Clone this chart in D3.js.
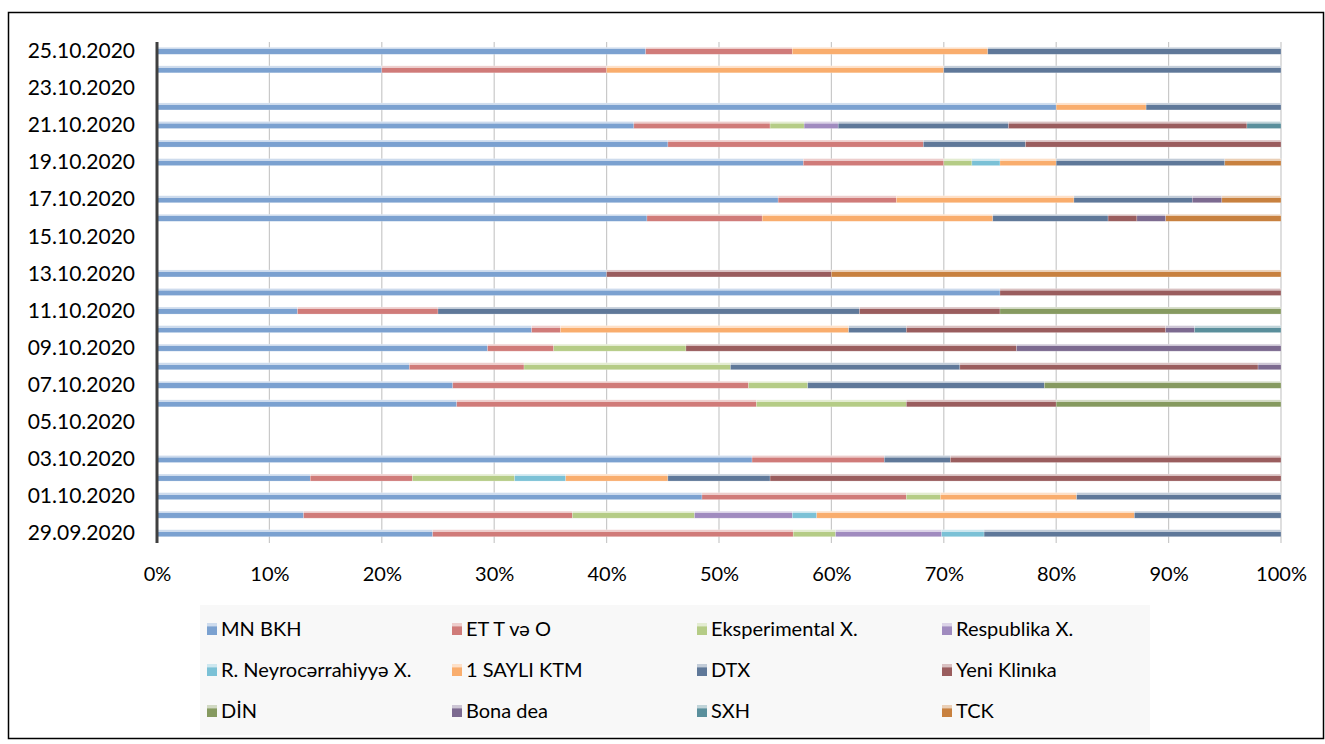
<!DOCTYPE html>
<html>
<head>
<meta charset="utf-8">
<script src="https://cdn.jsdelivr.net/npm/d3@7"></script>
<style>
  html, body { margin: 0; padding: 0; background: #fff; }
  svg { display: block; font-family: Lato, "Open Sans", sans-serif; }
</style>
</head>
<body>
<svg id="chart" width="1325" height="744"></svg>
<script>
// Daily dates, bottom row first
const dates = [
  "29.09.2020","30.09.2020","01.10.2020","02.10.2020","03.10.2020","04.10.2020","05.10.2020",
  "06.10.2020","07.10.2020","08.10.2020","09.10.2020","10.10.2020","11.10.2020","12.10.2020",
  "13.10.2020","14.10.2020","15.10.2020","16.10.2020","17.10.2020","18.10.2020","19.10.2020",
  "20.10.2020","21.10.2020","22.10.2020","23.10.2020","24.10.2020","25.10.2020"
];

const seriesNames = [
  "MN BKH","ET T və O","Eksperimental X.","Respublika X.",
  "R. Neyrocərrahiyyə X.","1 SAYLI KTM","DTX","Yeni Klinıka",
  "DİN","Bona dea","SXH","TCK"
];

const seriesColors = [
  "#7ba1d0","#d07b79","#b5cc86","#a08bbf",
  "#7bc1d6","#f9ad6d","#5f7899","#9a5d5e",
  "#869a60","#7c6a90","#5a8f9c","#c8813f"
];

// Counts per institution, one value per date
const mnBkh       = [13,6,16,3,9,0,0,4,5,11,5,13,1,3,2,0,0,17,21,0,23,10,14,20,0,2,10];
const etTvO       = [17,11,6,2,2,0,0,4,5,5,1,1,1,0,0,0,0,4,4,0,5,5,4,0,0,2,3];
const eksperiment = [2,5,1,2,0,0,0,2,1,9,2,0,0,0,0,0,0,0,0,0,1,0,1,0,0,0,0];
const respublika  = [5,4,0,0,0,0,0,0,0,0,0,0,0,0,0,0,0,0,0,0,0,0,1,0,0,0,0];
const neyro       = [2,1,0,1,0,0,0,0,0,0,0,0,0,0,0,0,0,0,0,0,1,0,0,0,0,0,0];
const saylıKtm    = [0,13,4,2,0,0,0,0,0,0,0,10,0,0,0,0,0,8,6,0,2,0,0,2,0,3,4];
const dtx         = [14,6,6,2,1,0,0,0,4,10,0,2,3,0,0,0,0,4,4,0,6,2,5,3,0,3,6];
const yeniKlinika = [0,0,0,10,5,0,0,2,0,13,5,9,1,1,1,0,0,1,0,0,0,5,7,0,0,0,0];
const din         = [0,0,0,0,0,0,0,3,4,0,0,0,2,0,0,0,0,0,0,0,0,0,0,0,0,0,0];
const bonaDea     = [0,0,0,0,0,0,0,0,0,1,4,1,0,0,0,0,0,1,1,0,0,0,0,0,0,0,0];
const sxh         = [0,0,0,0,0,0,0,0,0,0,0,3,0,0,0,0,0,0,0,0,0,0,1,0,0,0,0];
const tck         = [0,0,0,0,0,0,0,0,0,0,0,0,0,0,2,0,0,4,2,0,2,0,0,0,0,0,0];

const seriesValues = [mnBkh, etTvO, eksperiment, respublika, neyro, saylıKtm,
                      dtx, yeniKlinika, din, bonaDea, sxh, tck];

const xTicks = [0,0.1,0.2,0.3,0.4,0.5,0.6,0.7,0.8,0.9,1];

// Build table rows for the stack layout
const table = dates.map((d, i) => {
  const row = { date: d };
  seriesNames.forEach((s, k) => { row[s] = seriesValues[k][i]; });
  return row;
});

const svg = d3.select("#chart");

// Outer frame
svg.append("rect")
  .attr("x", 8.5).attr("y", 12.5)
  .attr("width", 1315).attr("height", 726)
  .attr("fill", "#fff").attr("stroke", "#000").attr("stroke-width", 1.5);

const plot = { left: 157, right: 1281, top: 42, bottom: 543 };

const x = d3.scaleLinear().domain([0, 1]).range([plot.left, plot.right]);
const y = d3.scaleBand().domain(dates.slice().reverse())
  .range([plot.top, plot.bottom]).padding(0);

// Vertical gridlines
svg.append("g").selectAll("line")
  .data(xTicks.slice(1))
  .join("line")
  .attr("x1", d => x(d)).attr("x2", d => x(d))
  .attr("y1", plot.top).attr("y2", plot.bottom)
  .attr("stroke", "#c9c9c9").attr("stroke-width", 1.2);

// Percent stack
const stack = d3.stack().keys(seriesNames).offset(d3.stackOffsetExpand);
const layers = stack(table);

const defs = svg.append("defs");
seriesColors.forEach((c, k) => {
  const g = defs.append("linearGradient")
    .attr("id", "grad" + k).attr("x1", 0).attr("x2", 0).attr("y1", 0).attr("y2", 1);
  const light = d3.interpolateRgb(c, "#ffffff")(0.62);
  g.append("stop").attr("offset", "0%").attr("stop-color", light);
  g.append("stop").attr("offset", "28%").attr("stop-color", light);
  g.append("stop").attr("offset", "30%").attr("stop-color", c);
  g.append("stop").attr("offset", "100%").attr("stop-color", c);
});

const barH = 7;
svg.append("g").selectAll("g")
  .data(layers)
  .join("g")
  .attr("fill", (d, k) => `url(#grad${k})`)
  .selectAll("rect")
  .data(d => d.filter(p => !isNaN(p[1]) && p[1] - p[0] > 0))
  .join("rect")
  .attr("x", p => x(p[0]))
  .attr("width", p => x(p[1]) - x(p[0]))
  .attr("y", p => y(p.data.date) + y.bandwidth() / 2 - 4)
  .attr("height", barH)
  .attr("stroke", "rgba(255,255,255,0.35)")
  .attr("stroke-width", 0.6);

// Y axis (every second date labelled)
const yAxis = d3.axisLeft(y)
  .tickValues(dates.filter((d, i) => i % 2 === 0))
  .tickSize(0).tickPadding(22);
const gy = svg.append("g").attr("transform", `translate(${plot.left},0)`).call(yAxis);
gy.select(".domain").remove();
gy.selectAll("text").attr("font-size", 21).attr("fill", "#000")
  .attr("font-family", "Lato, 'Open Sans', sans-serif");

svg.append("line")
  .attr("x1", plot.left).attr("x2", plot.left)
  .attr("y1", plot.top).attr("y2", plot.bottom)
  .attr("stroke", "#404040").attr("stroke-width", 3);

// X axis
const xAxis = d3.axisBottom(x).tickValues(xTicks).tickFormat(d3.format(".0%"))
  .tickSize(0).tickPadding(24);
const gx = svg.append("g").attr("transform", `translate(0,${plot.bottom})`).call(xAxis);
gx.select(".domain").remove();
gx.selectAll("text").attr("font-size", 20).attr("fill", "#000")
  .attr("font-family", "Lato, 'Open Sans', sans-serif");

// Legend
const legend = svg.append("g");
legend.append("rect")
  .attr("x", 200).attr("y", 605).attr("width", 950).attr("height", 130)
  .attr("fill", "#f8f8f8");

const colX = [207, 452, 697, 942];
const rowY = [629, 670, 711];
const items = legend.selectAll("g.item")
  .data(seriesNames)
  .join("g")
  .attr("class", "item")
  .attr("transform", (d, i) => `translate(${colX[i % 4]},${rowY[Math.floor(i / 4)]})`);

items.append("rect")
  .attr("x", 0).attr("y", -6).attr("width", 10).attr("height", 12)
  .attr("fill", (d, i) => `url(#grad${i})`);

items.append("text")
  .attr("x", 14).attr("y", 0).attr("dy", "0.35em")
  .attr("font-size", 20).attr("fill", "#000")
  .text(d => d);
</script>
</body>
</html>
